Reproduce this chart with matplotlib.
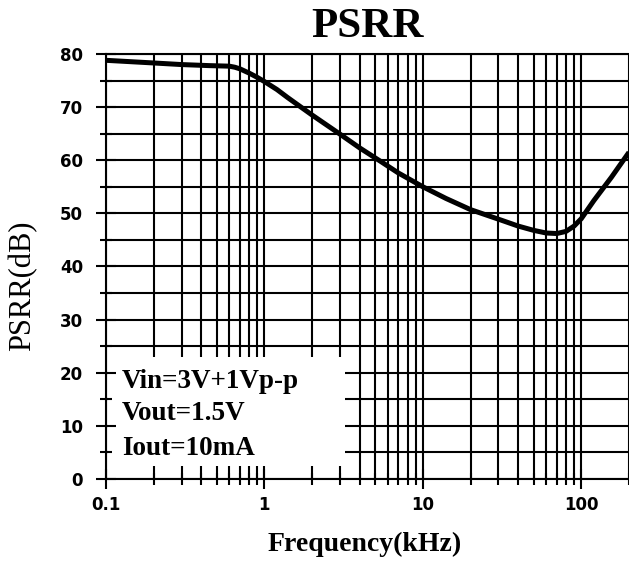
import numpy as np
import matplotlib
matplotlib.use("Agg")
import matplotlib.pyplot as plt
from matplotlib.patches import Rectangle
from matplotlib.ticker import LogLocator, MultipleLocator, FixedLocator, FixedFormatter

# PSRR vs frequency
freq_khz = [0.1, 0.2, 0.3, 0.45, 0.6, 0.65, 0.7, 0.8, 0.9, 1, 1.2, 1.4, 1.7, 2, 3, 4, 5.4,
            7, 10, 14, 20, 30, 40, 50, 60, 70, 80, 90, 100, 120, 155, 200]
psrr_db = [78.8, 78.3, 78.0, 77.8, 77.7, 77.5, 77.2, 76.4, 75.6, 74.8, 73.3, 71.8, 70.0,
           68.5, 64.9, 62.3, 59.8, 57.6, 55.0, 52.8, 50.7, 48.9, 47.6, 46.8, 46.3, 46.2,
           46.6, 47.6, 49.0, 52.4, 56.8, 61.5]

x_ticks = [0.1, 1, 10, 100]
x_tick_labels = ["0.1", "1", "10", "100"]
y_ticks = [0, 10, 20, 30, 40, 50, 60, 70, 80]
cond_lines = ["Vin=3V+1Vp-p", "Vout=1.5V", "Iout=10mA"]
cond_y = [0.214, 0.139, 0.056]   # baselines, axes fraction

fig = plt.figure(figsize=(6.29, 5.66), dpi=100)
pos = [0.1685, 0.1537, 0.8315, 0.751]

# grid axes (underneath the white box)
ax = fig.add_axes(pos)
ax.set_xscale("log")
ax.set_xlim(0.1, 200)
ax.set_ylim(0, 80)
ax.xaxis.set_major_locator(FixedLocator(x_ticks))
ax.xaxis.set_minor_locator(LogLocator(base=10, subs=np.arange(2, 10)))
ax.yaxis.set_major_locator(MultipleLocator(10))
ax.yaxis.set_minor_locator(MultipleLocator(5))
ax.set_axisbelow(True)
ax.grid(True, which="both", color="black", lw=1.5)
ax.tick_params(which="both", length=0, labelbottom=False, labelleft=False)
for s in ax.spines.values():
    s.set_visible(False)

# white box holding the test conditions
ax.add_patch(Rectangle((0.004, 0.031), 0.453, 0.256, transform=ax.transAxes,
                       facecolor="white", edgecolor="none", zorder=1))
ax.plot(freq_khz, psrr_db, color="black", lw=3.6, zorder=3,
        solid_capstyle="butt", solid_joinstyle="round")
for txt, yy in zip(cond_lines, cond_y):
    ax.text(0.031, yy, txt, transform=ax.transAxes, va="baseline", ha="left",
            family="Liberation Serif", fontweight="bold", fontsize=19.5, zorder=4)

# overlay axes for spines, ticks and labels
ax2 = fig.add_axes(pos, sharex=ax, sharey=ax)
ax2.patch.set_visible(False)
ax2.set_xscale("log")
ax2.xaxis.set_major_locator(FixedLocator(x_ticks))
ax2.xaxis.set_major_formatter(FixedFormatter(x_tick_labels))
ax2.xaxis.set_minor_locator(LogLocator(base=10, subs=np.arange(2, 10)))
ax2.xaxis.set_minor_formatter(plt.NullFormatter())
ax2.yaxis.set_major_locator(FixedLocator(y_ticks))
ax2.yaxis.set_minor_locator(MultipleLocator(5))
ax2.tick_params(which="both", direction="inout", width=1.5, color="black")
ax2.tick_params(which="major", length=15, labelsize=12, pad=9)
ax2.tick_params(which="minor", length=8)
ax2.tick_params(axis="x", which="major", pad=5)
for lab in ax2.get_xticklabels() + ax2.get_yticklabels():
    lab.set_fontweight("bold")
    lab.set_family("DejaVu Sans")
ax2.spines["right"].set_visible(False)
for k in ["left", "bottom", "top"]:
    ax2.spines[k].set_linewidth(1.5)

ax2.set_xlabel("Frequency(kHz)", family="Liberation Serif", fontweight="bold", fontsize=20)
ax2.xaxis.set_label_coords(0.495, -0.125)
ax2.set_ylabel("PSRR(dB)", family="Liberation Serif", fontsize=22)
ax2.yaxis.set_label_coords(-0.132, 0.454)
ax2.set_title("PSRR", family="Liberation Serif", fontweight="bold", fontsize=31, pad=12)

fig.savefig("out.png", dpi=100)
